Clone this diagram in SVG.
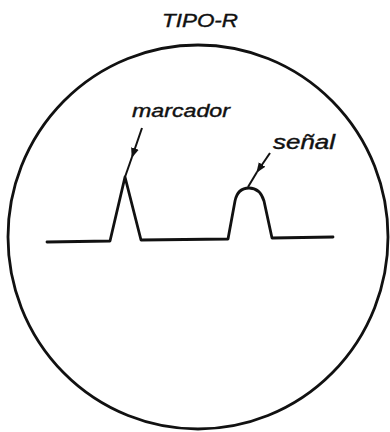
<svg xmlns="http://www.w3.org/2000/svg" width="390" height="432" viewBox="0 0 390 432">
<style>
.ln{fill:none;stroke:#111;stroke-width:2.8;stroke-linejoin:round;stroke-linecap:round}
.ar{fill:none;stroke:#111;stroke-width:2}
.lbl{font-family:"Liberation Sans",Arial,sans-serif;font-style:italic;fill:#111;stroke:#111;stroke-width:0.4}
</style>
<defs>
<marker id="ah" viewBox="0 0 10 10" refX="9" refY="5" markerWidth="5" markerHeight="5" orient="auto" markerUnits="strokeWidth">
<path d="M0,1 L10,5 L0,9 Z" fill="#111"/>
</marker>
</defs>
<rect width="390" height="432" fill="#fff"/>
<g id="title"><text class="lbl" x="162" y="27" font-size="19" textLength="76" lengthAdjust="spacingAndGlyphs">TIPO-R</text></g>
<g id="screen"><ellipse class="ln" cx="198" cy="237" rx="190" ry="192"/></g>
<g id="trace"><path class="ln" d="M47,242 L110,241 L125,177 L141,240 L228,239 L235,201 C237,191 243,188 249,188 C256,188 261,191 264,201 L272,238 L333,237"/></g>
<g id="marcador"><text class="lbl" x="132" y="117" font-size="19" textLength="98" lengthAdjust="spacingAndGlyphs">marcador</text></g>
<g id="senal"><text class="lbl" x="273" y="149" font-size="20" textLength="62" lengthAdjust="spacingAndGlyphs">señal</text></g>
<g id="connectors">
<path class="ar" d="M142,128 L132,157" marker-end="url(#ah)"/>
<path class="ar" d="M132,157 L125,177"/>
<path class="ar" d="M270,153 L257,172" marker-end="url(#ah)"/>
<path class="ar" d="M257,172 L248,187"/>
</g>
</svg>
